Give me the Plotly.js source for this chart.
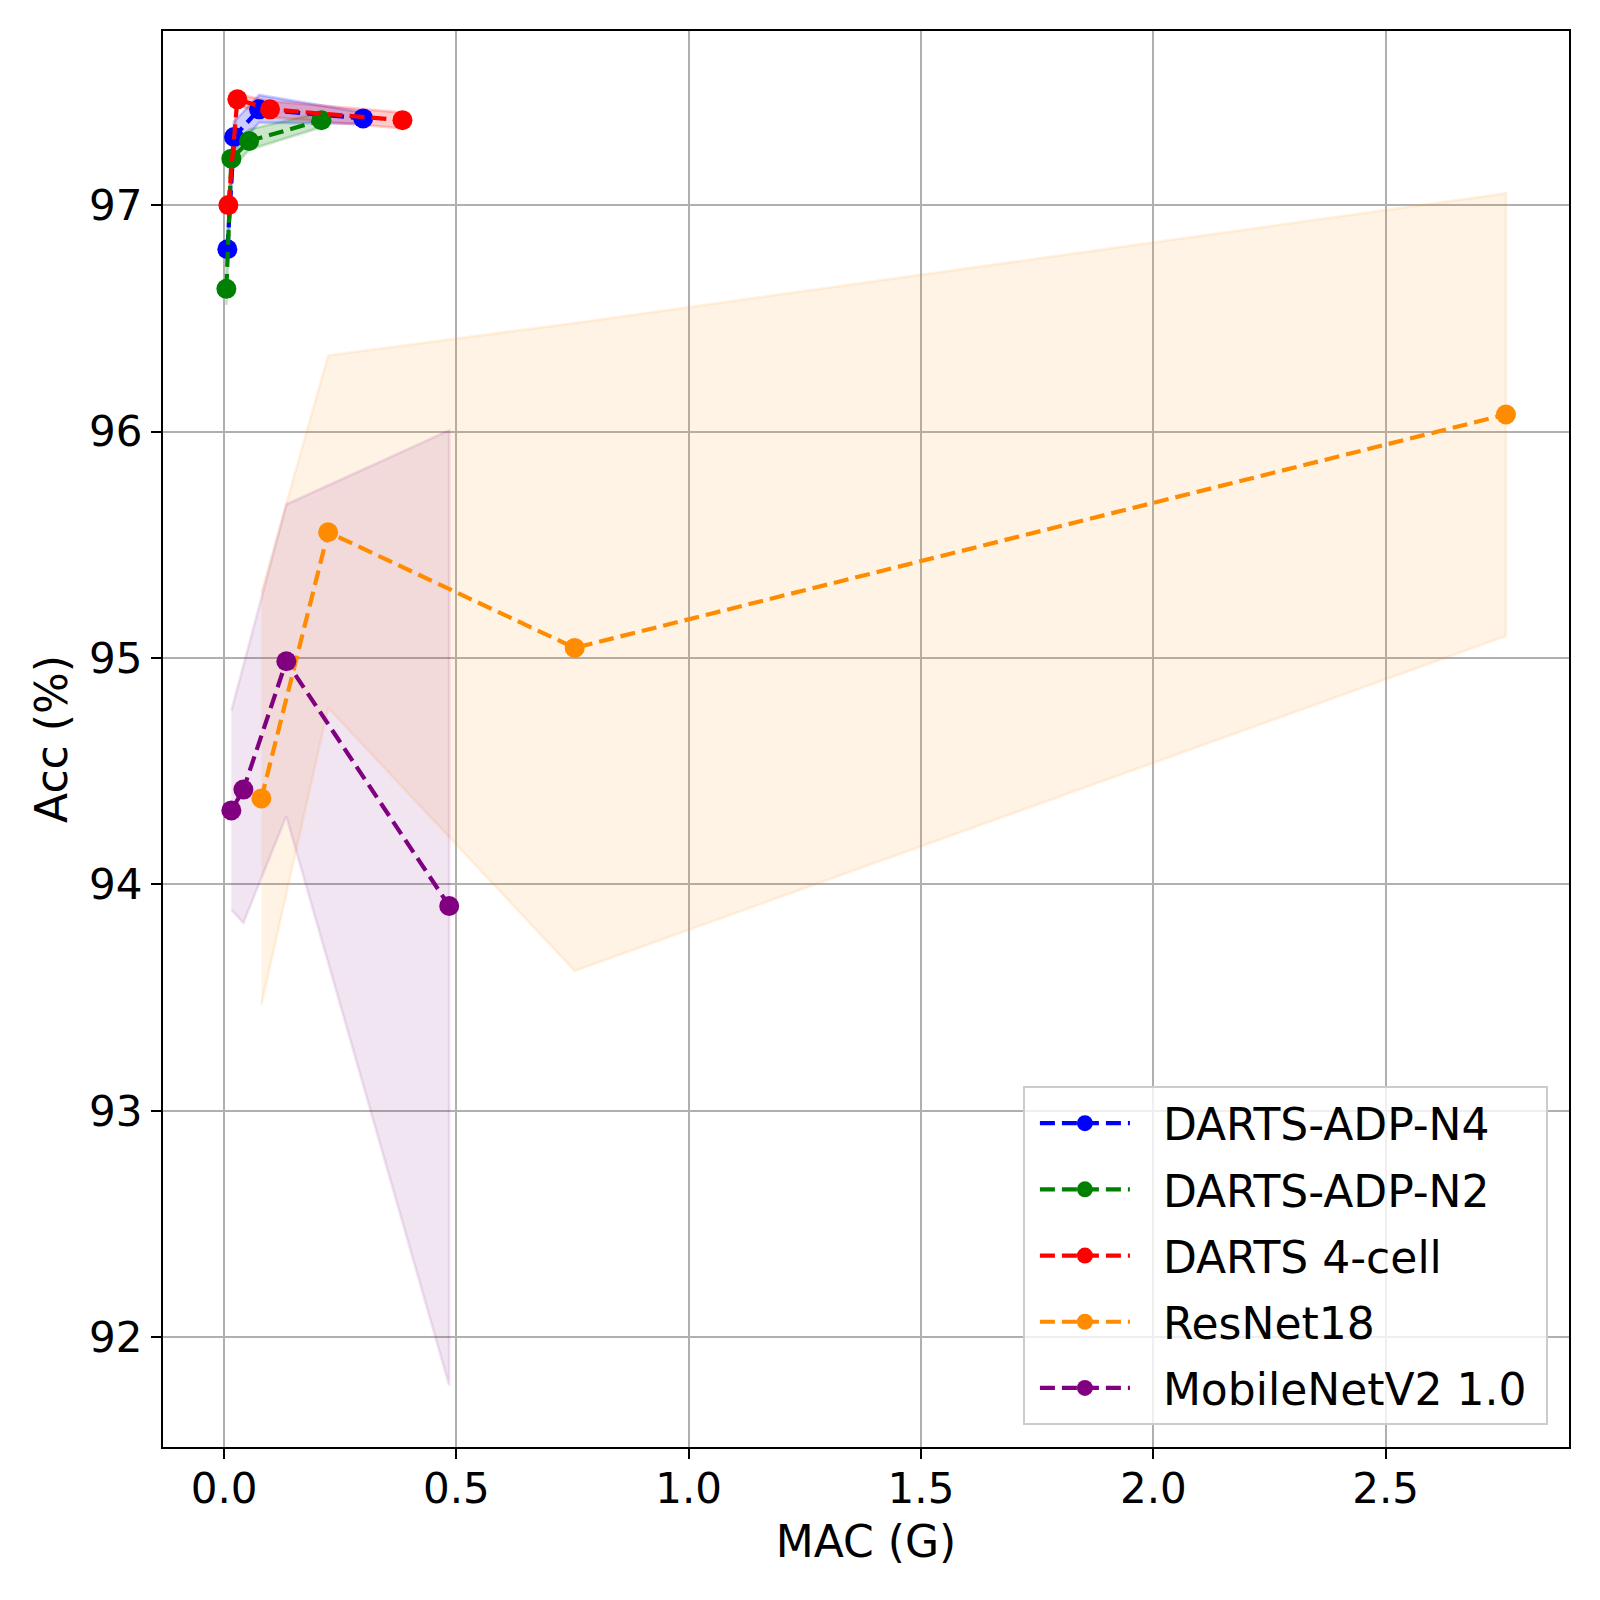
<!DOCTYPE html>
<html>
<head>
<meta charset="utf-8">
<script src="https://cdn.plot.ly/plotly-3.0.1.min.js"></script>
<style>
  body { margin: 0; background: #fff; }
  #acc_mac_graph { width: 1600px; height: 1600px; }
</style>
</head>
<body>
<div id="acc_mac_graph"></div>
<script>
// accuracy vs MACs, mean line with min/max band per model

var n4_mac = [0.0071, 0.0215, 0.0754, 0.2994];
var n4_acc = [96.806, 97.302, 97.424, 97.384];
var n4_hi  = [96.84, 97.37, 97.487, 97.41];
var n4_lo  = [96.77, 97.24, 97.365, 97.36];

var n2_mac = [0.005, 0.0157, 0.054, 0.2096];
var n2_acc = [96.631, 97.206, 97.284, 97.376];
var n2_hi  = [96.70, 97.25, 97.335, 97.41];
var n2_lo  = [96.56, 97.16, 97.245, 97.345];

var darts_mac = [0.0093, 0.0286, 0.099, 0.384];
var darts_acc = [97.001, 97.468, 97.424, 97.376];
var darts_hi  = [97.03, 97.49, 97.46, 97.41];
var darts_lo  = [96.97, 97.445, 97.39, 97.34];

var resnet_mac = [0.0803, 0.224, 0.7547, 2.759];
var resnet_acc = [94.380, 95.556, 95.045, 96.076];
var resnet_hi  = [95.29, 96.337, 96.48, 97.053];
var resnet_lo  = [93.468, 94.78, 93.618, 95.097];

var mbv2_mac = [0.0157, 0.0416, 0.134, 0.4846];
var mbv2_acc = [94.327, 94.419, 94.986, 93.905];
var mbv2_hi  = [94.768, 94.97, 95.679, 96.006];
var mbv2_lo  = [93.889, 93.830, 94.301, 91.787];

var x_ticks = [0, 0.5, 1.0, 1.5, 2.0, 2.5];
var y_ticks = [92, 93, 94, 95, 96, 97];

var models = [
  {name: 'DARTS-ADP-N4', mac: n4_mac, acc: n4_acc, hi: n4_hi, lo: n4_lo,
   color: 'rgb(0,0,255)', band: 'rgba(0,0,255,0.2)'},
  {name: 'DARTS-ADP-N2', mac: n2_mac, acc: n2_acc, hi: n2_hi, lo: n2_lo,
   color: 'rgb(0,128,0)', band: 'rgba(0,128,0,0.2)'},
  {name: 'DARTS 4-cell', mac: darts_mac, acc: darts_acc, hi: darts_hi, lo: darts_lo,
   color: 'rgb(255,0,0)', band: 'rgba(255,0,0,0.2)'},
  {name: 'ResNet18', mac: resnet_mac, acc: resnet_acc, hi: resnet_hi, lo: resnet_lo,
   color: 'rgb(255,140,0)', band: 'rgba(255,140,0,0.1)'},
  {name: 'MobileNetV2 1.0', mac: mbv2_mac, acc: mbv2_acc, hi: mbv2_hi, lo: mbv2_lo,
   color: 'rgb(128,0,128)', band: 'rgba(128,0,128,0.1)'}
];

var data = [];

// bands first so every dashed line sits on top
for (var i = 0; i < models.length; i++) {
  var m = models[i];
  data.push({
    x: m.mac.concat(m.mac.slice().reverse()),
    y: m.hi.concat(m.lo.slice().reverse()),
    type: 'scatter',
    mode: 'lines',
    fill: 'toself',
    fillcolor: m.band,
    line: {color: m.band, width: 2.8},
    hoverinfo: 'skip',
    showlegend: false
  });
}

// nbsp padding to get the matplotlib-like gap between handle and label
var pad = '\u00a0\u00a0';
for (var j = 0; j < models.length; j++) {
  var s = models[j];
  data.push({
    x: s.mac,
    y: s.acc,
    type: 'scatter',
    mode: 'lines+markers',
    name: pad + s.name + '\u00a0',
    legendgroup: 'g' + j,
    line: {color: s.color, width: 4.2, dash: '15px,7px'},
    marker: {color: s.color, size: 20}
  });
}

var axis_common = {
  showline: true,
  mirror: true,
  linecolor: '#000',
  linewidth: 2.2,
  ticks: 'outside',
  ticklen: 10,
  tickwidth: 2.2,
  tickcolor: '#000',
  showgrid: true,
  gridcolor: '#b0b0b0',
  gridwidth: 2.2,
  zeroline: false,
  automargin: false,
  tickfont: {size: 42, color: '#000'}
};

var layout = {
  width: 1600,
  height: 1600,
  margin: {l: 163, r: 31, t: 31, b: 153},
  paper_bgcolor: '#fff',
  plot_bgcolor: '#fff',
  font: {family: 'DejaVu Sans', color: '#000'},
  showlegend: true,
  xaxis: Object.assign({}, axis_common, {
    range: [-0.1314, 2.8947],
    tickvals: x_ticks,
    tickformat: '.1f',
    ticklabelstandoff: -7,
    title: {text: 'MAC (G)', font: {size: 44}, standoff: 15}
  }),
  yaxis: Object.assign({}, axis_common, {
    range: [91.515, 97.77],
    tickvals: y_ticks,
    ticklabelstandoff: 0,
    title: {text: 'Acc (%)', font: {size: 44}, standoff: 8}
  }),
  legend: {
    x: 0.985,
    y: 0.0155,
    xanchor: 'right',
    yanchor: 'bottom',
    bgcolor: 'rgba(255,255,255,0.8)',
    bordercolor: '#cccccc',
    borderwidth: 2,
    itemwidth: 90,
    indentation: 10,
    tracegroupgap: 6,
    font: {size: 44, color: '#000'}
  }
};

Plotly.newPlot('acc_mac_graph', data, layout, {displayModeBar: false});
</script>
</body>
</html>
